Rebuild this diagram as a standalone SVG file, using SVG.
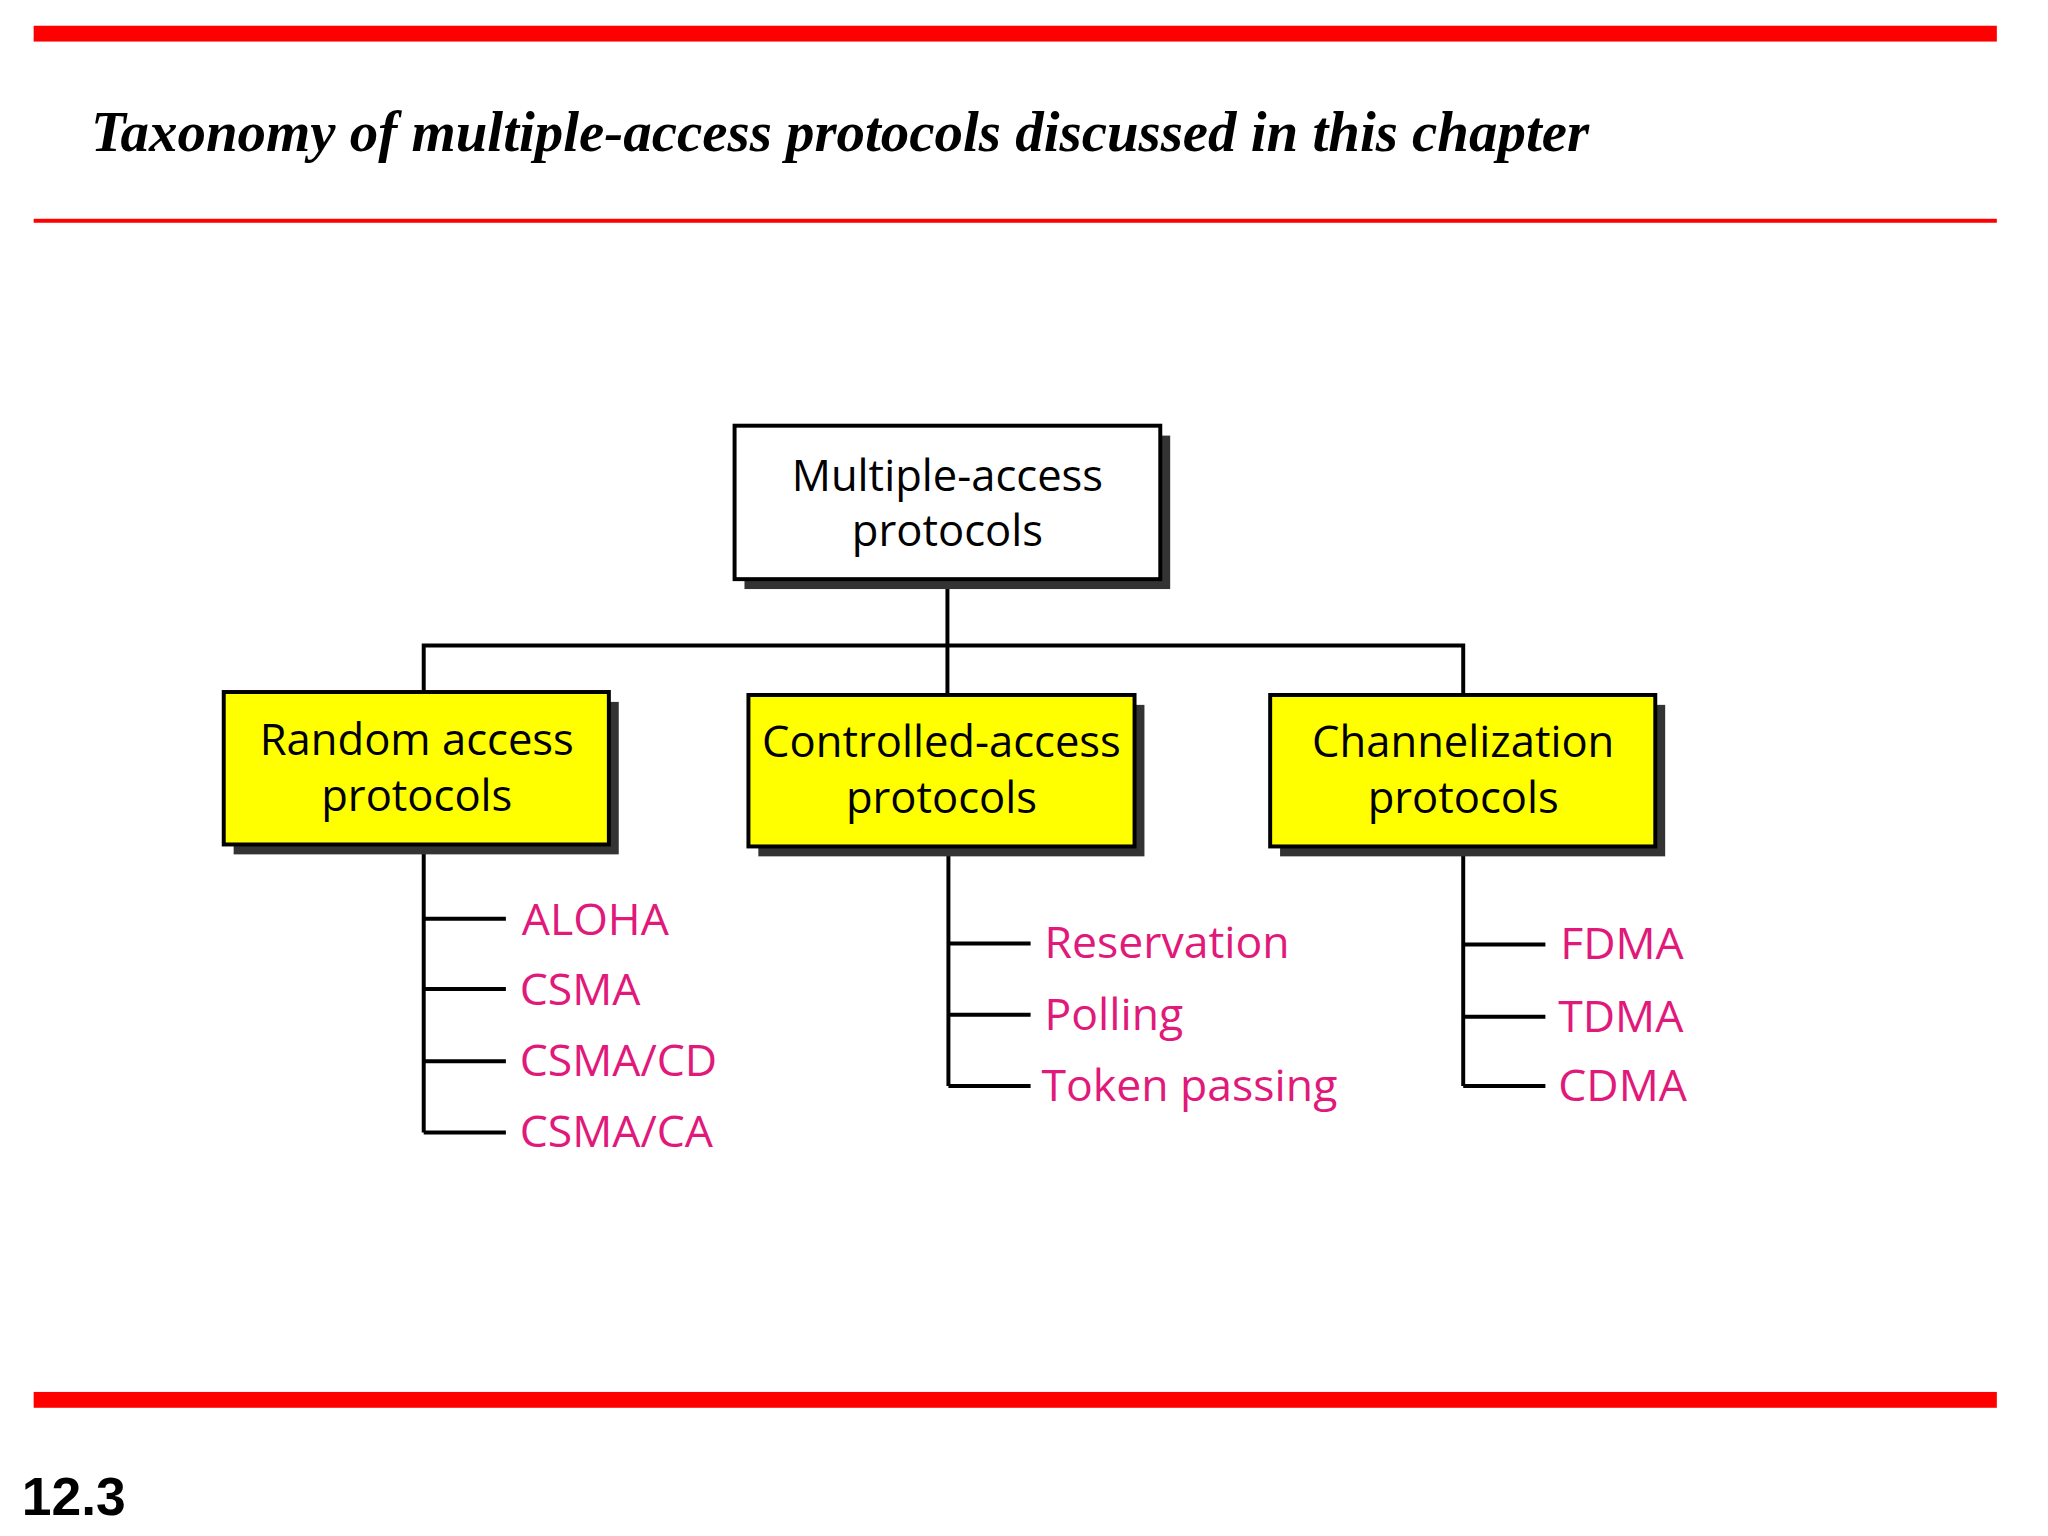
<svg xmlns="http://www.w3.org/2000/svg" width="2048" height="1536" viewBox="0 0 2048 1536">
<style>
.box{stroke:#000;stroke-width:4}
.sh{fill:#333}
.t{font-family:"Open Sans","Noto Sans",sans-serif;font-size:44px;fill:#000;text-anchor:middle}
.p{font-family:"Open Sans","Noto Sans",sans-serif;font-size:45px;fill:#e0197a}
.c{stroke:#000;stroke-width:4;fill:none}
</style>
<rect width="2048" height="1536" fill="#fff"/>
<g transform="scale(0.99)">
<rect x="34" y="26" width="1983" height="16" fill="#ff0000"/>
<rect x="34" y="221" width="1983" height="4" fill="#ff0000"/>
<rect x="34" y="1406" width="1983" height="16" fill="#ff0000"/>
<text x="92" y="153" font-family="Liberation Serif,serif" font-style="italic" font-weight="bold" font-size="57.5">Taxonomy of multiple-access protocols discussed in this chapter</text>
<text x="22" y="1530" font-family="Liberation Sans,sans-serif" font-weight="bold" font-size="54">12.3</text>
<g id="connectors">
<path class="c" d="M957 585V699M428 699V652H1478V702M957 652V702"/>
<path class="c" d="M428 853V1144M428 928H511M428 999H511M428 1072H511M428 1144H511"/>
<path class="c" d="M958 855V1097M958 953H1041M958 1025H1041M958 1097H1041"/>
<path class="c" d="M1478 855V1097M1478 954H1561M1478 1027H1561M1478 1097H1561"/>
</g>
<g id="root"><rect class="sh" x="752" y="440" width="430" height="155"/><rect class="box" fill="#fff" x="742" y="430" width="430" height="155"/>
<text class="t" x="957" y="496">Multiple-access</text><text class="t" x="957" y="552">protocols</text></g>
<g id="random"><rect class="sh" x="236" y="709" width="389" height="154"/><rect class="box" fill="#ffff00" x="226" y="699" width="389" height="154"/>
<text class="t" x="421" y="763">Random access</text><text class="t" x="421" y="819">protocols</text></g>
<g id="controlled"><rect class="sh" x="766" y="712" width="390" height="153"/><rect class="box" fill="#ffff00" x="756" y="702" width="390" height="153"/>
<text class="t" x="951" y="765">Controlled-access</text><text class="t" x="951" y="821">protocols</text></g>
<g id="channel"><rect class="sh" x="1293" y="712" width="389" height="153"/><rect class="box" fill="#ffff00" x="1283" y="702" width="389" height="153"/>
<text class="t" x="1478" y="765">Channelization</text><text class="t" x="1478" y="821">protocols</text></g>
<g id="leaves">
<text class="p" x="527" y="944">ALOHA</text><text class="p" x="525" y="1015">CSMA</text><text class="p" x="525" y="1087">CSMA/CD</text><text class="p" x="525" y="1159">CSMA/CA</text>
<text class="p" x="1055" y="968">Reservation</text><text class="p" x="1055" y="1040">Polling</text><text class="p" x="1052" y="1112">Token passing</text>
<text class="p" x="1576" y="969">FDMA</text><text class="p" x="1574" y="1042">TDMA</text><text class="p" x="1574" y="1112">CDMA</text>
</g>
</g>
</svg>
